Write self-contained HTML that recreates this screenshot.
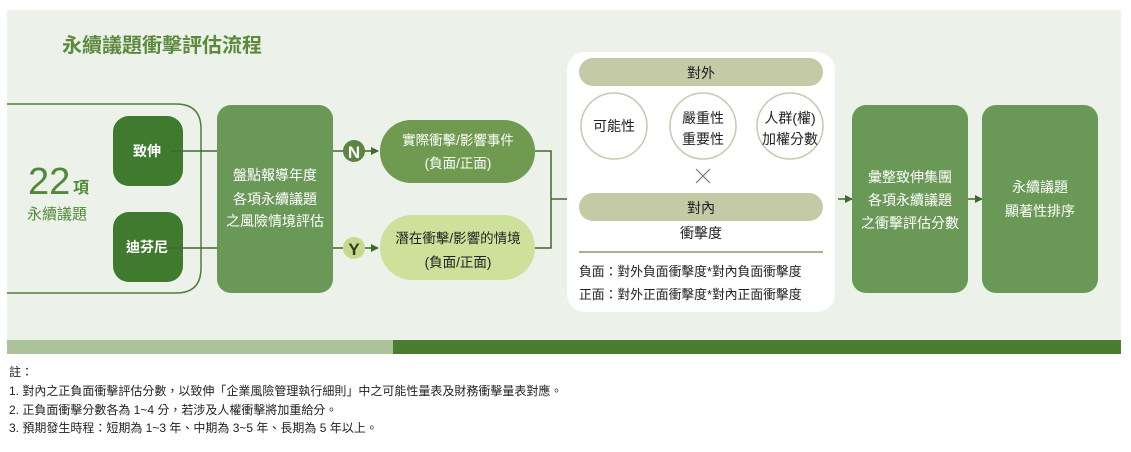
<!DOCTYPE html>
<html><head><meta charset="utf-8"><style>
body{margin:0;background:#fff;width:1131px;height:447px;overflow:hidden}
svg text{font-family:"Liberation Sans","Noto Sans CJK TC",sans-serif}
</style></head><body>
<svg width="1131" height="447" viewBox="0 0 1131 447" xmlns="http://www.w3.org/2000/svg">
<defs><marker id="a" markerWidth="8" markerHeight="8" refX="7" refY="4" orient="auto" markerUnits="userSpaceOnUse"><path d="M0,0 L8,4 L0,8 Z" fill="#3e6b2e"/></marker></defs>
<rect x="7" y="10" width="1114" height="330" fill="#ecf1ea"/>
<rect x="7" y="340" width="386" height="14" fill="#adc39a"/>
<rect x="393" y="340" width="728" height="14" fill="#4b7d31"/>
<text x="62" y="52" font-size="20" font-weight="bold" fill="#5c8a3c">永續議題衝擊評估流程</text>
<path d="M7,104 H176 Q201,104 201,129 V268 Q201,293 176,293 H7" fill="none" stroke="#4f7e36" stroke-width="1.5"/>
<text x="28" y="194" font-size="38" fill="#4f8a36">22</text>
<text x="73" y="193" font-size="16" fill="#4f8a36" font-weight="bold">項</text>
<text x="57" y="219" font-size="15" fill="#4f8a36" text-anchor="middle">永續議題</text>
<rect x="113" y="116" width="70" height="70" rx="16" fill="#3f7a2e"/>
<rect x="113" y="212" width="70" height="70" rx="16" fill="#3f7a2e"/>
<text x="147" y="156" font-size="14" fill="#fff" text-anchor="middle" font-weight="bold">致伸</text>
<text x="147" y="252" font-size="14" fill="#fff" text-anchor="middle" font-weight="bold">迪芬尼</text>
<line x1="170" y1="151" x2="230" y2="151" stroke="#3e6b2e" stroke-width="1.5" marker-end="url(#a)"/>
<line x1="170" y1="248" x2="230" y2="248" stroke="#3e6b2e" stroke-width="1.5" marker-end="url(#a)"/>
<rect x="217" y="105" width="116" height="188" rx="14" fill="#6a9957"/>
<g font-size="14" fill="#fff" text-anchor="middle"><text x="275" y="180">盤點報導年度</text><text x="275" y="204">各項永續議題</text><text x="275" y="226">之風險情境評估</text></g>
<line x1="333" y1="151" x2="378" y2="151" stroke="#3e6b2e" stroke-width="1.5" marker-end="url(#a)"/>
<line x1="333" y1="248" x2="378" y2="248" stroke="#3e6b2e" stroke-width="1.5" marker-end="url(#a)"/>
<circle cx="354" cy="151" r="11" fill="#5a8542"/><text x="354" y="158" font-size="17" font-weight="bold" fill="#fff" text-anchor="middle">N</text>
<circle cx="354" cy="248" r="11" fill="#c5da8c"/><text x="354" y="255" font-size="17" font-weight="bold" fill="#2c3e1c" text-anchor="middle">Y</text>
<rect x="380" y="120" width="155" height="63" rx="31" fill="#6f9a50"/>
<rect x="380" y="215" width="155" height="65" rx="32" fill="#cde19a"/>
<g font-size="13.5" text-anchor="middle"><text x="458" y="145" fill="#fff">實際衝擊/影響事件</text><text x="458" y="168" fill="#fff">(負面/正面)</text>
<text x="458" y="243" fill="#222">潛在衝擊/影響的情境</text><text x="458" y="267" fill="#222">(負面/正面)</text></g>
<path d="M535,151 H551 V248 H535" fill="none" stroke="#3e6b2e" stroke-width="1.5"/>
<line x1="551" y1="199" x2="575" y2="199" stroke="#3e6b2e" stroke-width="1.5" marker-end="url(#a)"/>
<rect x="567" y="52" width="268" height="260" rx="18" fill="#fff"/>
<rect x="579" y="58" width="244" height="28" rx="14" fill="#c5caa6"/>
<text x="701" y="78" font-size="14" fill="#222" text-anchor="middle">對外</text>
<g fill="#fff" stroke="#c9c8b0" stroke-width="1.5"><circle cx="614" cy="126" r="33"/><circle cx="703" cy="126" r="33"/><circle cx="790" cy="126" r="33"/></g>
<g font-size="14" fill="#222" text-anchor="middle"><text x="614" y="131">可能性</text><text x="703" y="123">嚴重性</text><text x="703" y="144">重要性</text><text x="790" y="123">人群(權)</text><text x="790" y="144">加權分數</text></g>
<path d="M696,169 L710,183 M710,169 L696,183" stroke="#777" stroke-width="1.2"/>
<rect x="579" y="193" width="244" height="28" rx="14" fill="#c5caa6"/>
<text x="701" y="213" font-size="14" fill="#222" text-anchor="middle">對內</text>
<text x="701" y="238" font-size="14" fill="#222" text-anchor="middle">衝擊度</text>
<line x1="579" y1="252" x2="823" y2="252" stroke="#8a9a6a" stroke-width="1.5"/>
<text x="579" y="276" font-size="12.8" fill="#222">負面：對外負面衝擊度*對內負面衝擊度</text>
<text x="579" y="299" font-size="12.8" fill="#222">正面：對外正面衝擊度*對內正面衝擊度</text>
<line x1="838" y1="199" x2="852" y2="199" stroke="#3e6b2e" stroke-width="1.5" marker-end="url(#a)"/>
<rect x="852" y="105" width="116" height="188" rx="14" fill="#6a9957"/>
<g font-size="14" fill="#fff" text-anchor="middle"><text x="910" y="182">彙整致伸集團</text><text x="910" y="205">各項永續議題</text><text x="910" y="228">之衝擊評估分數</text></g>
<line x1="968" y1="199" x2="982" y2="199" stroke="#3e6b2e" stroke-width="1.5" marker-end="url(#a)"/>
<rect x="982" y="105" width="116" height="188" rx="14" fill="#6a9957"/>
<g font-size="14" fill="#fff" text-anchor="middle"><text x="1040" y="192">永續議題</text><text x="1040" y="216">顯著性排序</text></g>
<g font-size="12" fill="#222"><text x="9" y="376">註：</text>
<text x="9" y="395">1.  對內之正負面衝擊評估分數，以致伸「企業風險管理執行細則」中之可能性量表及財務衝擊量表對應。</text>
<text x="9" y="414">2.  正負面衝擊分數各為 1~4 分，若涉及人權衝擊將加重給分。</text>
<text x="9" y="432">3.  預期發生時程：短期為 1~3 年、中期為 3~5 年、長期為 5 年以上。</text></g>
</svg>
</body></html>
